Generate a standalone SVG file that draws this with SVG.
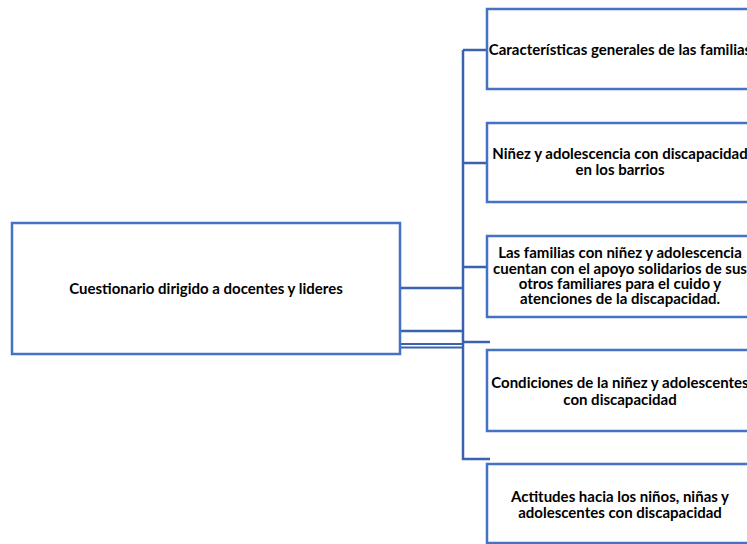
<svg xmlns="http://www.w3.org/2000/svg" width="747" height="544" viewBox="0 0 747 544">
<style>
.box{fill:#fff;stroke:#4472C4;stroke-width:2.5}
.lbl{font-family:Lato,"Liberation Sans",sans-serif;font-weight:bold;font-size:15px;fill:#000;text-anchor:middle}
.con{fill:none;stroke:#3A62AE;stroke-width:2.5}
</style>
<rect width="747" height="544" fill="#fff"/>
<g id="connectors">
<path class="con" d="M463,50 V459 H490"/>
<path class="con" d="M463,50 H487"/>
<path class="con" d="M463,163 H487"/>
<path class="con" d="M463,267 H487"/>
<path class="con" d="M463,342 H490"/>
<path class="con" d="M400,288 H463"/>
<path class="con" d="M400,331 H463"/>
<path class="con" d="M400,344 H463" style="stroke-width:1.8"/>
<path class="con" d="M400,347.5 H463" style="stroke-width:1.8"/>
</g>
<g id="central">
<rect class="box" x="12" y="223" width="388" height="131"/>
<text class="lbl" x="206" y="294">Cuestionario dirigido a docentes y lideres</text>
</g>
<g id="n1">
<rect class="box" x="487" y="9" width="266" height="80"/>
<text class="lbl" x="620" y="55">Características generales de las familias</text>
</g>
<g id="n2">
<rect class="box" x="487" y="123" width="266" height="79"/>
<text class="lbl" x="620" y="159">Niñez y adolescencia con discapacidad</text>
<text class="lbl" x="620" y="175">en los barrios</text>
</g>
<g id="n3">
<rect class="box" x="487" y="236" width="266" height="81"/>
<text class="lbl" x="620" y="258">Las familias con niñez y adolescencia</text>
<text class="lbl" x="620" y="274">cuentan con el apoyo solidarios de sus</text>
<text class="lbl" x="620" y="289">otros familiares para el cuido y</text>
<text class="lbl" x="620" y="304">atenciones de la discapacidad.</text>
</g>
<g id="n4">
<rect class="box" x="487" y="350" width="266" height="81"/>
<text class="lbl" x="620" y="388">Condiciones de la niñez y adolescentes</text>
<text class="lbl" x="620" y="405">con discapacidad</text>
</g>
<g id="n5">
<rect class="box" x="487" y="464" width="266" height="79"/>
<text class="lbl" x="620" y="502">Actitudes hacia los niños, niñas y</text>
<text class="lbl" x="620" y="518">adolescentes con discapacidad</text>
</g>
</svg>
